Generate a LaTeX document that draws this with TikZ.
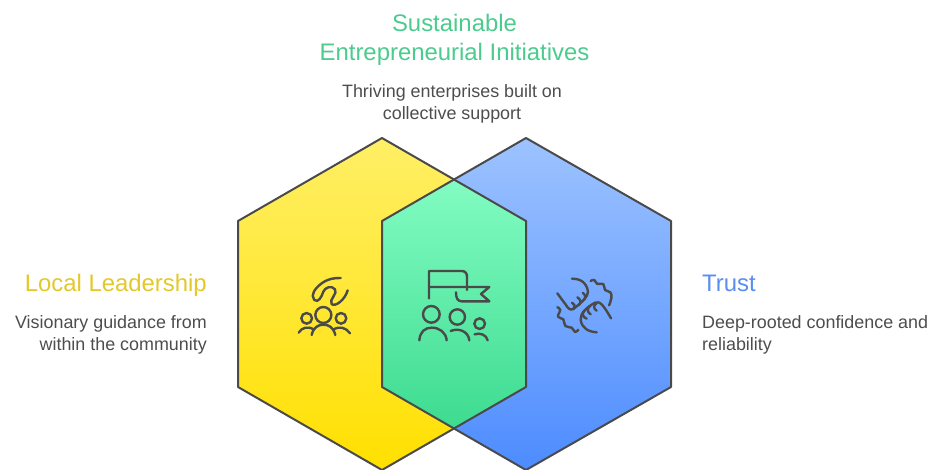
\documentclass[tikz,border=0pt]{standalone}
\usepackage{fontspec}
\setmainfont{Liberation Sans}
\definecolor{edgecol}{HTML}{4A4A4A}
\definecolor{txtcol}{HTML}{4D4D4D}
\definecolor{ttlgreen}{HTML}{4CCB8E}
\definecolor{ttlyellow}{HTML}{E3C82B}
\definecolor{ttlblue}{HTML}{5A8EEE}
\definecolor{ytop}{HTML}{FFEF66}
\definecolor{ybot}{HTML}{FFE000}
\definecolor{btop}{HTML}{9DC3FF}
\definecolor{bbot}{HTML}{4D8CFF}
\definecolor{gtop}{HTML}{82FCC2}
\definecolor{gbot}{HTML}{3DDB90}
\tikzset{
  hexline/.style={draw=edgecol,line width=2pt,line join=round},
  iconline/.style={draw=edgecol,line width=2.4pt,line cap=round,line join=round},
  title/.style={inner sep=0pt,font=\fontsize{23.9}{26}\selectfont},
  body/.style={inner sep=0pt,text=txtcol,font=\fontsize{17.9}{22}\selectfont}
}
\begin{document}
\begin{tikzpicture}[x=1pt,y=-1pt]
\useasboundingbox (0,0) rectangle (928,470);
% hexagons
\begin{scope}
\clip (0,0) rectangle (928,470);
\shade[top color=ytop,bottom color=ybot] (382,138)--(526,221)--(526,387)--(382,470)--(238,387)--(238,221)--cycle;
\shade[top color=btop,bottom color=bbot] (526,138)--(671,221)--(671,387)--(526,470)--(382,387)--(382,221)--cycle;
\shade[top color=gtop,bottom color=gbot] (454.5,180)--(526,221)--(526,387)--(454.5,429)--(382,387)--(382,221)--cycle;
\draw[hexline] (382,138)--(526,221)--(526,387)--(382,470)--(238,387)--(238,221)--cycle;
\draw[hexline] (526,138)--(671,221)--(671,387)--(526,470)--(382,387)--(382,221)--cycle;
\end{scope}
% left icon
\begin{scope}[shift={(280,250)},scale=1/3]
\draw[iconline] (130,195) circle (24);
\draw[iconline] (80,205) circle (16);
\draw[iconline] (183,205) circle (16);
\draw[iconline] (95,255) .. controls (100,232) and (115,224) .. (130,224) .. controls (147,224) and (160,232) .. (166,255);
\draw[iconline] (56,248) .. controls (65,232) and (85,228) .. (102,238);
\draw[iconline] (160,238) .. controls (178,228) and (198,232) .. (210,250);
\draw[iconline] (182,84) .. controls (160,84) and (145,86) .. (125,100) .. controls (105,115) and (90,135) .. (103,150) .. controls (115,160) and (125,140) .. (130,125) .. controls (135,112) and (155,105) .. (165,118) .. controls (175,130) and (145,150) .. (155,162) .. controls (165,172) and (195,150) .. (203,121);
\end{scope}
% centre icon
\begin{scope}[shift={(400,255)},scale=1/3]
\draw[iconline] (87,130)--(87,48)--(185,48) .. controls (197,48) and (201,56) .. (201,66)--(201,105);
\draw[iconline] (87,96)--(268,96)--(243,117)--(268,139)--(185,139) .. controls (172,139) and (168,128) .. (168,112);
\draw[iconline] (94,178) circle (25);
\draw[iconline] (172,186) circle (23);
\draw[iconline] (239,206) circle (16);
\draw[iconline] (58,256) .. controls (60,230) and (75,218) .. (95,218) .. controls (118,218) and (138,232) .. (140,256);
\draw[iconline] (152,228) .. controls (175,218) and (205,228) .. (208,256);
\draw[iconline] (224,238) .. controls (240,232) and (260,240) .. (263,256);
\end{scope}
% right icon
\begin{scope}[shift={(540,260)},scale=1/3]
\draw[iconline] (96,56) .. controls (122,56) and (140,68) .. (144,95) .. controls (145,108) and (125,128) .. (100,147) .. controls (92,152) and (84,146) .. (78,135) -- (52,100);
\draw[iconline] (96,128) .. controls (104,130) and (106,138) .. (100,147);
\draw[iconline] (112,112) .. controls (122,118) and (124,126) .. (118,134);
\draw[iconline] (128,98) .. controls (136,104) and (138,112) .. (132,120);
\draw[iconline] (170,217) .. controls (145,215) and (126,205) .. (122,180) .. controls (120,160) and (140,142) .. (165,128) .. controls (180,122) and (190,135) .. (213,175);
\draw[iconline] (170,130) .. controls (160,134) and (160,148) .. (170,152);
\draw[iconline] (150,138) .. controls (140,145) and (142,158) .. (152,163);
\draw[iconline] (133,152) .. controls (125,160) and (128,172) .. (140,176);
\draw[iconline] plot[smooth,tension=0.8] coordinates {(152,63) (163,60) (172,72) (190,72) (195,90) (211,97) (214,115) (207,136)};
\draw[iconline] plot[smooth,tension=0.8] coordinates {(52,142) (61,150) (54,170) (70,178) (76,198) (95,203) (105,216) (115,209)};
\end{scope}
% texts
\node[title,text=ttlgreen,anchor=base] (t1) at (454.5,31.7) {Sustainable};
\node[title,text=ttlgreen,anchor=base] (t2) at (454.5,60.7) {Entrepreneurial Initiatives};
\node[body,anchor=base] (b1) at (452,97.7) {Thriving enterprises built on};
\node[body,anchor=base] (b2) at (452,119.7) {collective support};
\node[title,text=ttlyellow,anchor=base east] (l1) at (207,291.5) {Local Leadership};
\node[body,anchor=base east] (l2) at (207,328.7) {Visionary guidance from};
\node[body,anchor=base east] (l3) at (207,350.7) {within the community};
\node[title,text=ttlblue,anchor=base west] (r1) at (702,291.5) {Trust};
\node[body,anchor=base west] (r2) at (702,328.7) {Deep-rooted confidence and};
\node[body,anchor=base west] (r3) at (702,350.7) {reliability};
\end{tikzpicture}
\end{document}
